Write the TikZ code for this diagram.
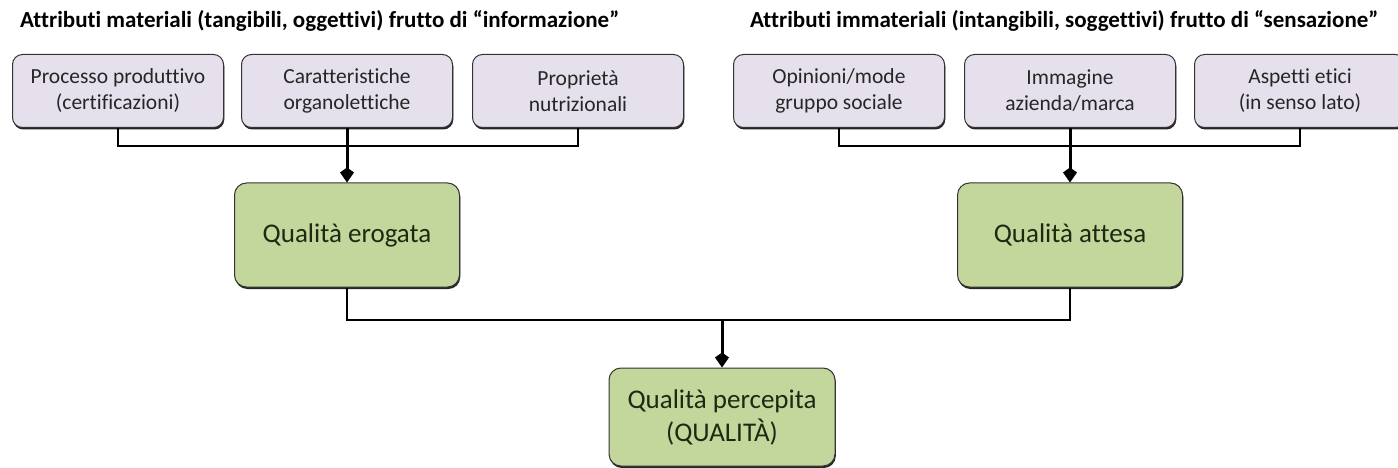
\documentclass[tikz,border=0pt]{standalone}
\usepackage{fontspec}
\setmainfont{Carlito}[Ligatures=NoCommon]
\usetikzlibrary{arrows.meta, shadows, positioning}
\definecolor{attrlavender}{rgb}{0.898, 0.878, 0.925}
\definecolor{qualgreen}{rgb}{0.765, 0.839, 0.608}
\definecolor{qualtext}{rgb}{0.12, 0.16, 0.07}

\tikzset{
    attrbox/.style={draw=black!80, line width=1pt, rounded corners=10pt, fill=attrlavender,
        minimum width=211pt, minimum height=73pt, align=center, text=black!85,
        font=\fontsize{21.5}{26}\selectfont,
        drop shadow={shadow xshift=0.8pt, shadow yshift=-2pt, fill=black!85, opacity=1}},
    qualbox/.style={draw=black!80, line width=1pt, rounded corners=12pt, fill=qualgreen,
        minimum width=225pt, minimum height=104pt, align=center, text=qualtext,
        font=\fontsize{27}{33}\selectfont,
        drop shadow={shadow xshift=0.8pt, shadow yshift=-2pt, fill=black!85, opacity=1}},
    grouptitle/.style={anchor=west, inner sep=0pt, font=\bfseries\fontsize{23}{26}\selectfont},
    bus/.style={line width=2pt},
    feed/.style={line width=3pt, -{Kite[length=15pt, width=14pt, inset=5pt]}}
}

\begin{document}
\begin{tikzpicture}[x=1pt, y=-1pt]
    \useasboundingbox (0, 0) rectangle (1398, 468);

    \node[grouptitle] (Mtitle) at (20, 21) {Attributi materiali (tangibili, oggettivi) frutto di “informazione”};
    \node[grouptitle] (Ititle) at (750, 21) {Attributi immateriali (intangibili, soggettivi) frutto di “sensazione”};

    \node[attrbox] (Mproc) at (118, 91) {Processo produttivo\\(certificazioni)};
    \node[attrbox] (Mcar) at (347, 91) {Caratteristiche\\organolettiche};
    \node[attrbox] (Mprop) at (578, 91) {Proprietà\\nutrizionali};

    \node[attrbox] (Iopin) at (839, 91) {Opinioni/mode\\gruppo sociale};
    \node[attrbox] (Iimg) at (1070, 91) {Immagine\\azienda/marca};
    \node[attrbox] (Ietic) at (1300, 91) {Aspetti etici\\(in senso lato)};

    \node[qualbox] (Qerog) at (347, 235) {Qualità erogata};
    \node[qualbox] (Qatt) at (1070, 235) {Qualità attesa};
    \node[qualbox, minimum width=226pt, minimum height=98pt] (Qperc) at (722, 417) {Qualità percepita\\(QUALITÀ)};

    \coordinate (Mbus) at (347, 146);
    \coordinate (Ibus) at (1070, 146);
    \coordinate (Qbus) at (722, 320);

    \draw[bus] (Mproc.south) |- (Mbus) -| (Mprop.south);
    \draw[bus] (Iopin.south) |- (Ibus) -| (Ietic.south);
    \draw[bus] (Qerog.south) |- (Qbus) -| (Qatt.south);

    \draw[feed] (Mcar.south) -- (Qerog.north);
    \draw[feed] (Iimg.south) -- (Qatt.north);
    \draw[feed] (Qbus) -- (Qperc.north);
\end{tikzpicture}
\end{document}
